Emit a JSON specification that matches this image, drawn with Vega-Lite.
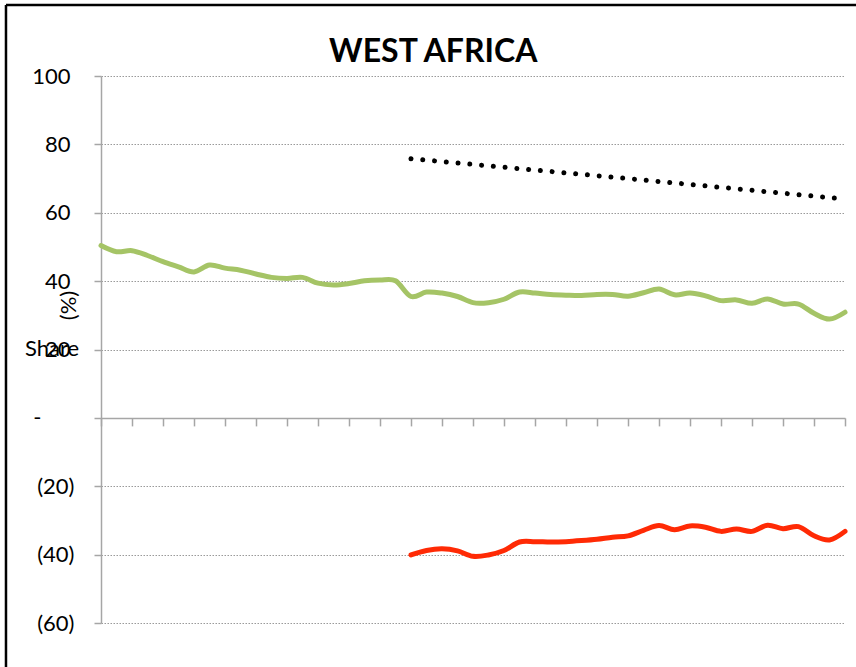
{
  "$schema": "https://vega.github.io/schema/vega-lite/v6.json",
  "width": 744,
  "height": 547,
  "autosize": {"type": "none"},
  "padding": {"left": 101, "top": 76, "right": 11, "bottom": 44},
  "background": "white",
  "title": {
    "text": "WEST AFRICA",
    "font": "Lato",
    "fontSize": 32,
    "fontWeight": "bold",
    "color": "black",
    "anchor": "middle",
    "frame": "bounds",
    "offset": -65
  },
  "config": {
    "view": {"stroke": null},
    "axis": {"labelFont": "Lato", "titleFont": "Lato"}
  },
  "datasets": {
    "share": [
      {"i": 0, "v": 50.4}, {"i": 1, "v": 48.6}, {"i": 2, "v": 48.9}, {"i": 3, "v": 47.5},
      {"i": 4, "v": 45.7}, {"i": 5, "v": 44.2}, {"i": 6, "v": 42.7}, {"i": 7, "v": 44.7},
      {"i": 8, "v": 43.8}, {"i": 9, "v": 43.2}, {"i": 10, "v": 42.1}, {"i": 11, "v": 41.1},
      {"i": 12, "v": 40.8}, {"i": 13, "v": 41.1}, {"i": 14, "v": 39.4}, {"i": 15, "v": 38.9},
      {"i": 16, "v": 39.3}, {"i": 17, "v": 40.1}, {"i": 18, "v": 40.3}, {"i": 19, "v": 40.1},
      {"i": 20, "v": 35.5}, {"i": 21, "v": 36.8}, {"i": 22, "v": 36.5}, {"i": 23, "v": 35.5},
      {"i": 24, "v": 33.7}, {"i": 25, "v": 33.7}, {"i": 26, "v": 34.7}, {"i": 27, "v": 36.8},
      {"i": 28, "v": 36.5}, {"i": 29, "v": 36.1}, {"i": 30, "v": 35.9}, {"i": 31, "v": 35.8},
      {"i": 32, "v": 36.1}, {"i": 33, "v": 36.1}, {"i": 34, "v": 35.6}, {"i": 35, "v": 36.6},
      {"i": 36, "v": 37.7}, {"i": 37, "v": 36.0}, {"i": 38, "v": 36.5}, {"i": 39, "v": 35.7},
      {"i": 40, "v": 34.3}, {"i": 41, "v": 34.5}, {"i": 42, "v": 33.5}, {"i": 43, "v": 34.8},
      {"i": 44, "v": 33.3}, {"i": 45, "v": 33.3}, {"i": 46, "v": 30.6}, {"i": 47, "v": 28.9},
      {"i": 48, "v": 30.9}
    ],
    "deficit": [
      {"i": 20, "v": -40.1}, {"i": 21, "v": -38.8}, {"i": 22, "v": -38.3}, {"i": 23, "v": -38.9},
      {"i": 24, "v": -40.5}, {"i": 25, "v": -40.1}, {"i": 26, "v": -38.8}, {"i": 27, "v": -36.3},
      {"i": 28, "v": -36.2}, {"i": 29, "v": -36.3}, {"i": 30, "v": -36.2}, {"i": 31, "v": -35.9},
      {"i": 32, "v": -35.5}, {"i": 33, "v": -34.9}, {"i": 34, "v": -34.5}, {"i": 35, "v": -32.9},
      {"i": 36, "v": -31.5}, {"i": 37, "v": -32.7}, {"i": 38, "v": -31.6}, {"i": 39, "v": -32.0},
      {"i": 40, "v": -33.2}, {"i": 41, "v": -32.5}, {"i": 42, "v": -33.2}, {"i": 43, "v": -31.4},
      {"i": 44, "v": -32.4}, {"i": 45, "v": -31.8}, {"i": 46, "v": -34.5}, {"i": 47, "v": -35.7},
      {"i": 48, "v": -33.2}
    ],
    "trend": [
      {"i": 20, "v": 75.8}, {"i": 34, "v": 70.0}, {"i": 48, "v": 64.0}
    ],
    "captions": [
      {"label": "Share", "i": -4.9, "v": 18.1}
    ]
  },
  "encoding": {
    "x": {
      "field": "i",
      "type": "quantitative",
      "scale": {"domain": [0, 48], "nice": false, "zero": false},
      "axis": {
        "orient": "bottom",
        "offset": -205.1,
        "values": [0, 2, 4, 6, 8, 10, 12, 14, 16, 18, 20, 22, 24, 26, 28, 30, 32, 34, 36, 38, 40, 42, 44, 46, 48],
        "labels": false,
        "title": null,
        "grid": false,
        "domainColor": "#a6a6a6",
        "domainWidth": 1.5,
        "tickColor": "#a6a6a6",
        "tickWidth": 1.5,
        "tickSize": 8
      }
    },
    "y": {
      "field": "v",
      "type": "quantitative",
      "scale": {"domain": [-60, 100], "nice": false, "zero": false},
      "axis": {
        "values": [-60, -40, -20, 0, 20, 40, 60, 80, 100],
        "labelExpr": "datum.value < 0 ? '(' + (-datum.value) + ')' : (datum.value == 0 ? '-' : datum.value + '')",
        "labelFontSize": 22,
        "labelColor": "black",
        "labelPadding": {
          "condition": [
            {"test": "datum.value == 0", "value": 53},
            {"test": "datum.value > 0", "value": 24}
          ],
          "value": 20
        },
        "domainColor": "#a6a6a6",
        "domainWidth": 1.5,
        "tickColor": "#a6a6a6",
        "tickWidth": 1.5,
        "tickSize": 7,
        "grid": true,
        "gridColor": "#9a9a9a",
        "gridDash": [1.5, 1.5],
        "gridWidth": 1.2,
        "title": "(%)",
        "titleFontSize": 22,
        "titleFontWeight": "normal",
        "titleColor": "black",
        "titleAngle": 270,
        "titleAlign": "center",
        "titleBaseline": "middle",
        "titleX": -33,
        "titleY": 229
      }
    }
  },
  "layer": [
    {
      "data": {"name": "share"},
      "mark": {"type": "line", "interpolate": "cardinal", "color": "#a5c466", "strokeWidth": 5, "strokeCap": "round"}
    },
    {
      "data": {"name": "deficit"},
      "mark": {"type": "line", "interpolate": "cardinal", "color": "#ff2a05", "strokeWidth": 5, "strokeCap": "round"}
    },
    {
      "data": {"name": "trend"},
      "mark": {"type": "line", "color": "black", "strokeWidth": 5, "strokeCap": "round", "strokeDash": [0.01, 11.8]}
    },
    {
      "data": {"name": "captions"},
      "mark": {"type": "text", "font": "Lato", "fontSize": 22, "color": "black", "align": "left", "baseline": "alphabetic"},
      "encoding": {"text": {"field": "label"}}
    },
    {
      "data": {"name": "captions"},
      "mark": {"type": "rule", "color": "black", "strokeWidth": 2.5},
      "encoding": {
        "x": {"datum": -6.13, "type": "quantitative"},
        "y": {"datum": 120.8, "type": "quantitative"},
        "y2": {"datum": -75}
      }
    },
    {
      "data": {"name": "captions"},
      "mark": {"type": "rule", "color": "black", "strokeWidth": 2.5},
      "encoding": {
        "y": {"datum": 120.8, "type": "quantitative"},
        "x": {"datum": -6.13, "type": "quantitative"},
        "x2": {"datum": 49}
      }
    }
  ]
}
